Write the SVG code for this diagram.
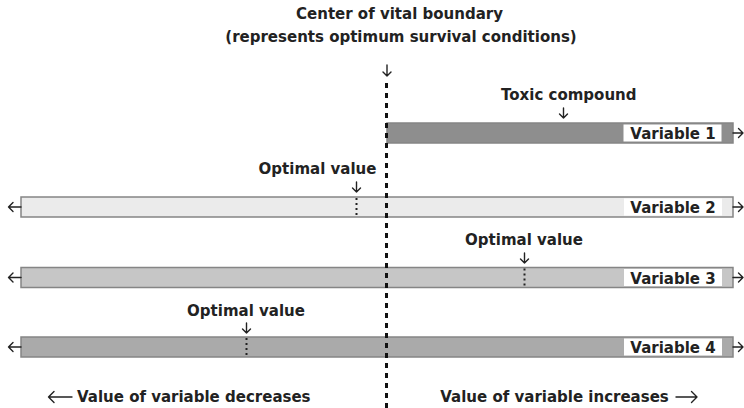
<svg xmlns="http://www.w3.org/2000/svg" width="744" height="408" viewBox="0 0 744 408">
<style>
  text { font-family: "DejaVu Sans", Verdana, sans-serif; font-weight: bold; font-size: 15px; fill: #222; }
  .bar { stroke: #858585; stroke-width: 1.5; }
  .lbl { fill: #ffffff; }
  .arr { fill: none; stroke: #222; stroke-width: 1.4; stroke-linecap: round; stroke-linejoin: round; }
  .opt { stroke: #222; stroke-width: 2; stroke-dasharray: 2 3; }
  .center { stroke: #111; stroke-width: 3; stroke-dasharray: 5 5; }
</style>
<rect width="744" height="408" fill="#ffffff"/>

<g id="title">
  <text x="399.5" y="19" text-anchor="middle">Center of vital boundary</text>
  <text x="401" y="42" text-anchor="middle">(represents optimum survival conditions)</text>
</g>

<g id="bar1">
  <rect class="bar" x="387" y="123" width="346" height="20" fill="#8e8e8e"/>
  <rect class="lbl" x="623.5" y="124.5" width="98" height="17"/>
  <text x="673" y="139" text-anchor="middle">Variable 1</text>
</g>
<g id="bar2">
  <rect class="bar" x="21" y="197" width="712" height="20" fill="#ebebeb"/>
  <rect class="lbl" x="624" y="198.5" width="98" height="17"/>
  <text x="673" y="213" text-anchor="middle">Variable 2</text>
</g>
<g id="bar3">
  <rect class="bar" x="21" y="267.5" width="712" height="20" fill="#c6c6c6"/>
  <rect class="lbl" x="624" y="269" width="98" height="17"/>
  <text x="673" y="283.5" text-anchor="middle">Variable 3</text>
</g>
<g id="bar4">
  <rect class="bar" x="21" y="337" width="712" height="20" fill="#aaaaaa"/>
  <rect class="lbl" x="624" y="338.5" width="98" height="17"/>
  <text x="673" y="353" text-anchor="middle">Variable 4</text>
</g>

<g id="center-line">
  <line class="center" x1="386.5" y1="83" x2="386.5" y2="408"/>
</g>

<g id="optimal-2">
  <text x="317.5" y="174" text-anchor="middle">Optimal value</text>
  <line class="opt" x1="356.5" y1="198" x2="356.5" y2="217"/>
</g>
<g id="optimal-3">
  <text x="524" y="245" text-anchor="middle">Optimal value</text>
  <line class="opt" x1="524.5" y1="268.5" x2="524.5" y2="287.5"/>
</g>
<g id="optimal-4">
  <text x="246" y="316" text-anchor="middle">Optimal value</text>
  <line class="opt" x1="246.5" y1="338" x2="246.5" y2="357"/>
</g>
<g id="toxic">
  <text x="568.8" y="100" text-anchor="middle">Toxic compound</text>
</g>
<g id="decreases">
  <text x="77" y="402">Value of variable decreases</text>
</g>
<g id="increases">
  <text x="440.3" y="402">Value of variable increases</text>
</g>

<g id="connectors">
  <!-- down arrows -->
  <path class="arr" d="M387,65 V76 M383,72 L387,76 L391,72"/>
  <path class="arr" d="M563.5,108 V118 M559.5,114 L563.5,118 L567.5,114"/>
  <path class="arr" d="M356.5,182 V192 M352.5,188 L356.5,192 L360.5,188"/>
  <path class="arr" d="M524.5,253 V263 M520.5,259 L524.5,263 L528.5,259"/>
  <path class="arr" d="M246.5,323 V333 M242.5,329 L246.5,333 L250.5,329"/>
  <!-- right arrows -->
  <path class="arr" d="M733,133 H743 M738.5,128.5 L743,133 L738.5,137.5"/>
  <path class="arr" d="M733,207 H743 M738.5,202.5 L743,207 L738.5,211.5"/>
  <path class="arr" d="M733,277.5 H743 M738.5,273 L743,277.5 L738.5,282"/>
  <path class="arr" d="M733,347 H743 M738.5,342.5 L743,347 L738.5,351.5"/>
  <!-- left arrows -->
  <path class="arr" d="M21,207 H8.5 M13,202.5 L8.5,207 L13,211.5"/>
  <path class="arr" d="M21,277.5 H8.5 M13,273 L8.5,277.5 L13,282"/>
  <path class="arr" d="M21,347 H8.5 M13,342.5 L8.5,347 L13,351.5"/>
  <!-- bottom arrows -->
  <path class="arr" d="M72,397 H48.5 M54,391.5 L48.5,397 L54,402.5"/>
  <path class="arr" d="M676,397 H697 M691.5,391.5 L697,397 L691.5,402.5"/>
</g>
</svg>
